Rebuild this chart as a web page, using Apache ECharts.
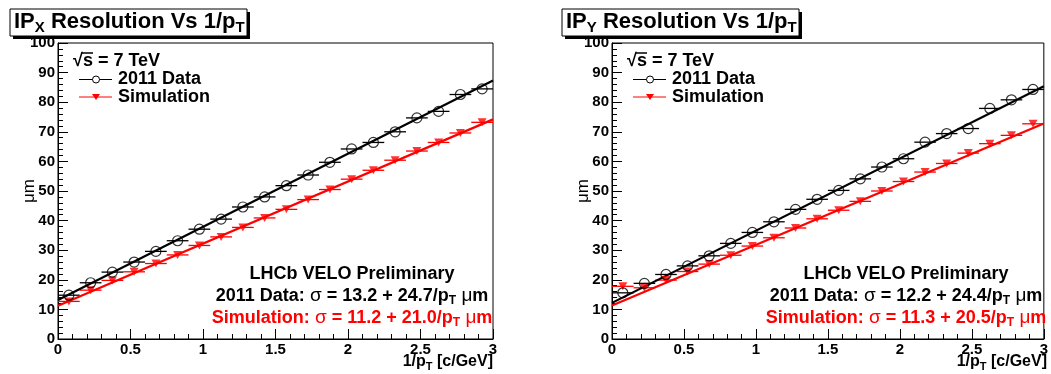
<!DOCTYPE html>
<html>
<head>
<meta charset="utf-8">
<script src="https://cdn.jsdelivr.net/npm/echarts@6/dist/echarts.min.js"></script>
<style>
    html, body { margin: 0; padding: 0; background: #fff; }
    #chart { width: 1051px; height: 374px; }
</style>
</head>
<body>
<div id="chart"></div>
<script>
// bin centres in 1/pT [c/GeV], each bin is 0.15 wide
const binCenters = [0.075, 0.225, 0.375, 0.525, 0.675, 0.825, 0.975, 1.125, 1.275, 1.425,
    1.575, 1.725, 1.875, 2.025, 2.175, 2.325, 2.475, 2.625, 2.775, 2.925]
const binHalfWidth = 0.075

// IPx resolution [um]
const ipxData = [14.8, 19.0, 22.6, 26.0, 29.6, 33.2, 37.1, 40.5, 44.6, 48.0,
    51.8, 55.4, 59.7, 64.2, 66.4, 70.0, 74.7, 76.9, 82.6, 84.5]
const ipxSim = [12.7, 16.5, 19.8, 22.7, 25.5, 28.4, 31.6, 34.5, 37.7, 40.9,
    43.8, 47.1, 50.5, 54.0, 57.0, 60.4, 63.5, 66.4, 69.6, 73.2]

// IPy resolution [um]
const ipyData = [15.6, 18.8, 21.8, 24.7, 28.1, 32.3, 36.0, 39.6, 43.8, 47.2,
    50.2, 54.1, 58.1, 60.9, 66.5, 69.4, 71.1, 77.9, 80.8, 84.3]
const ipySim = [17.8, 17.3, 19.9, 22.8, 25.3, 28.3, 31.4, 34.2, 37.5, 40.6,
    43.5, 46.5, 50.0, 53.2, 56.4, 59.3, 62.8, 66.0, 68.8, 72.7]

// fit lines: value at 1/pT = 0 and 1/pT = 3
const fitX = [0, 3]
const ipxDataFit = [13.2, 87.3]
const ipxSimFit = [11.2, 74.2]
const ipyDataFit = [12.2, 85.4]
const ipySimFit = [11.3, 72.8]

// fit parameters shown in the text box
const ipxDataPar = ['13.2', '24.7']
const ipxSimPar = ['11.2', '21.0']
const ipyDataPar = ['12.2', '24.4']
const ipySimPar = ['11.3', '20.5']

const FONT = '"Liberation Sans", Arial, Helvetica, sans-serif'
const RED = '#ff0000'

const chart = echarts.init(document.getElementById('chart'))

// 各面板的水平偏移
const panels = [
    { x0: 58, title: 'X', data: ipxData, sim: ipxSim, dFit: ipxDataFit, sFit: ipxSimFit, dPar: ipxDataPar, sPar: ipxSimPar, titleX: 10 },
    { x0: 612, title: 'Y', data: ipyData, sim: ipySim, dFit: ipyDataFit, sFit: ipySimFit, dPar: ipyDataPar, sPar: ipySimPar, titleX: 562 }
]

const richText = {
    b: { fontFamily: FONT, fontWeight: 'bold', fontSize: 18, lineHeight: 22, fill: '#000' },
    bs: { fontFamily: FONT, fontWeight: 'bold', fontSize: 12, lineHeight: 12, verticalAlign: 'bottom', fill: '#000' },
    g: { fontFamily: FONT, fontWeight: 'normal', fontSize: 19, lineHeight: 22, fill: '#000' },
    r: { fontFamily: FONT, fontWeight: 'bold', fontSize: 18, lineHeight: 22, fill: RED },
    rs: { fontFamily: FONT, fontWeight: 'bold', fontSize: 12, lineHeight: 12, verticalAlign: 'bottom', fill: RED },
    rg: { fontFamily: FONT, fontWeight: 'normal', fontSize: 19, lineHeight: 22, fill: RED }
}

function buildGraphics(p) {
    const dx = p.x0 - 58
    const els = []
    // title box with shadow
    els.push({ type: 'rect', shape: { x: p.titleX + 3, y: 12, width: 237, height: 27 }, style: { fill: '#000' } })
    els.push({ type: 'rect', shape: { x: p.titleX, y: 9, width: 237, height: 27 }, style: { fill: '#fff', stroke: '#000', lineWidth: 1 } })
    els.push({
        type: 'text', x: p.titleX + 4, y: 22,
        style: {
            text: '{t|IP}{ts|' + p.title + '}{t| Resolution Vs 1/p}{ts|T}',
            verticalAlign: 'middle',
            rich: {
                t: { fontFamily: FONT, fontWeight: 'bold', fontSize: 22, lineHeight: 26, fill: '#000' },
                ts: { fontFamily: FONT, fontWeight: 'bold', fontSize: 15, lineHeight: 15, verticalAlign: 'bottom', fill: '#000' }
            }
        }
    })
    // y-axis title
    els.push({
        type: 'text', x: 29 + dx, y: 191, rotation: Math.PI / 2,
        style: { text: 'μm', font: '17px ' + FONT, fill: '#000', align: 'center', verticalAlign: 'middle' }
    })
    // legend
    els.push({ type: 'text', x: 73 + dx, y: 61, style: { text: '√s = 7 TeV', font: 'bold 18px ' + FONT, fill: '#000', verticalAlign: 'middle' } })
    els.push({ type: 'line', shape: { x1: 82 + dx, y1: 53, x2: 93 + dx, y2: 53 }, style: { stroke: '#000', lineWidth: 1.5 } })
    els.push({ type: 'line', shape: { x1: 79 + dx, y1: 79.5, x2: 112 + dx, y2: 79.5 }, style: { stroke: '#000', lineWidth: 1 } })
    els.push({ type: 'circle', shape: { cx: 96 + dx, cy: 79.5, r: 3.5 }, style: { fill: '#fff', stroke: '#000', lineWidth: 1 } })
    els.push({ type: 'text', x: 118 + dx, y: 79, style: { text: '2011 Data', font: 'bold 18px ' + FONT, fill: '#000', verticalAlign: 'middle' } })
    els.push({ type: 'line', shape: { x1: 79 + dx, y1: 97, x2: 112 + dx, y2: 97 }, style: { stroke: RED, lineWidth: 1 } })
    els.push({ type: 'polygon', shape: { points: [[92 + dx, 94], [100 + dx, 94], [96 + dx, 100]] }, style: { fill: RED } })
    els.push({ type: 'text', x: 118 + dx, y: 97, style: { text: 'Simulation', font: 'bold 18px ' + FONT, fill: '#000', verticalAlign: 'middle' } })
    // fit results box
    els.push({
        type: 'text', x: 352 + dx, y: 296,
        style: {
            text: '{b|LHCb VELO Preliminary}\n' +
                '{b|2011 Data:}{g| σ}{b| = ' + p.dPar[0] + ' + ' + p.dPar[1] + '/p}{bs|T}{g| μ}{b|m}\n' +
                '{r|Simulation:}{rg| σ}{r| = ' + p.sPar[0] + ' + ' + p.sPar[1] + '/p}{rs|T}{rg| μ}{r|m}',
            align: 'center', verticalAlign: 'middle',
            rich: richText
        }
    })
    // x-axis title
    els.push({
        type: 'text', x: p.x0 + 435, y: 362,
        style: {
            text: '{t|1/p}{ts|T}{t| [c/GeV]}',
            align: 'right', verticalAlign: 'middle',
            rich: {
                t: { fontFamily: FONT, fontWeight: 'bold', fontSize: 16, lineHeight: 20, fill: '#000' },
                ts: { fontFamily: FONT, fontWeight: 'bold', fontSize: 11, lineHeight: 11, verticalAlign: 'bottom', fill: '#000' }
            }
        }
    })
    return els
}

function xAxisOf(i) {
    return {
        type: 'value', gridIndex: i, min: 0, max: 3, interval: 0.5,
        axisLine: { onZero: false, lineStyle: { color: '#000', width: 1 } },
        axisTick: { inside: true, length: 10, lineStyle: { color: '#000', width: 1 } },
        minorTick: { show: true, splitNumber: 5, length: 5, lineStyle: { color: '#000', width: 1 } },
        splitLine: { show: false },
        axisLabel: { color: '#000', fontFamily: FONT, fontWeight: 'bold', fontSize: 15, margin: 3, showMinLabel: true, showMaxLabel: true }
    }
}

function yAxisOf(i) {
    return {
        type: 'value', gridIndex: i, min: 0, max: 100, interval: 10,
        axisLine: { onZero: false, lineStyle: { color: '#000', width: 1 } },
        axisTick: { inside: true, length: 10, lineStyle: { color: '#000', width: 1 } },
        minorTick: { show: true, splitNumber: 5, length: 5, lineStyle: { color: '#000', width: 1 } },
        splitLine: { show: false },
        axisLabel: { color: '#000', fontFamily: FONT, fontWeight: 'bold', fontSize: 15, margin: 3, showMinLabel: true, showMaxLabel: true }
    }
}

// horizontal error bars (bin widths)
function errorBars(values, i, color) {
    return {
        type: 'custom', xAxisIndex: i, yAxisIndex: i, silent: true, z: 2,
        data: binCenters.map((x, k) => [x - binHalfWidth, x + binHalfWidth, values[k]]),
        encode: { x: [0, 1], y: 2 },
        renderItem: function (params, api) {
            const a = api.coord([api.value(0), api.value(2)])
            const b = api.coord([api.value(1), api.value(2)])
            return {
                type: 'line',
                shape: { x1: a[0], y1: a[1], x2: b[0], y2: b[1] },
                style: { stroke: color, lineWidth: 1.3 }
            }
        }
    }
}

function fitLine(vals, i, color) {
    return {
        type: 'line', xAxisIndex: i, yAxisIndex: i, silent: true, z: 3,
        data: fitX.map((x, k) => [x, vals[k]]),
        symbol: 'none',
        lineStyle: { color: color, width: 2.2 }
    }
}

const series = []
panels.forEach((p, i) => {
    series.push(errorBars(p.sim, i, RED))
    series.push(errorBars(p.data, i, '#000'))
    series.push(fitLine(p.sFit, i, RED))
    series.push(fitLine(p.dFit, i, '#000'))
    series.push({
        name: 'Simulation', type: 'scatter', xAxisIndex: i, yAxisIndex: i, z: 4,
        data: binCenters.map((x, k) => [x, p.sim[k]]),
        symbol: 'triangle', symbolRotate: 180, symbolSize: [9, 8],
        itemStyle: { color: RED }
    })
    series.push({
        name: '2011 Data', type: 'scatter', xAxisIndex: i, yAxisIndex: i, z: 5,
        data: binCenters.map((x, k) => [x, p.data[k]]),
        symbol: 'circle', symbolSize: 10,
        itemStyle: { color: 'rgba(255,255,255,0)', borderColor: '#000', borderWidth: 1.2 }
    })
})

chart.setOption({
    backgroundColor: '#fff',
    animation: false,
    grid: panels.map(p => ({
        left: p.x0, top: 43, width: 435, height: 296,
        show: true, borderColor: '#000', borderWidth: 1, backgroundColor: 'transparent'
    })),
    xAxis: [xAxisOf(0), xAxisOf(1)],
    yAxis: [yAxisOf(0), yAxisOf(1)],
    graphic: panels.flatMap(buildGraphics),
    series: series
})
</script>
</body>
</html>
